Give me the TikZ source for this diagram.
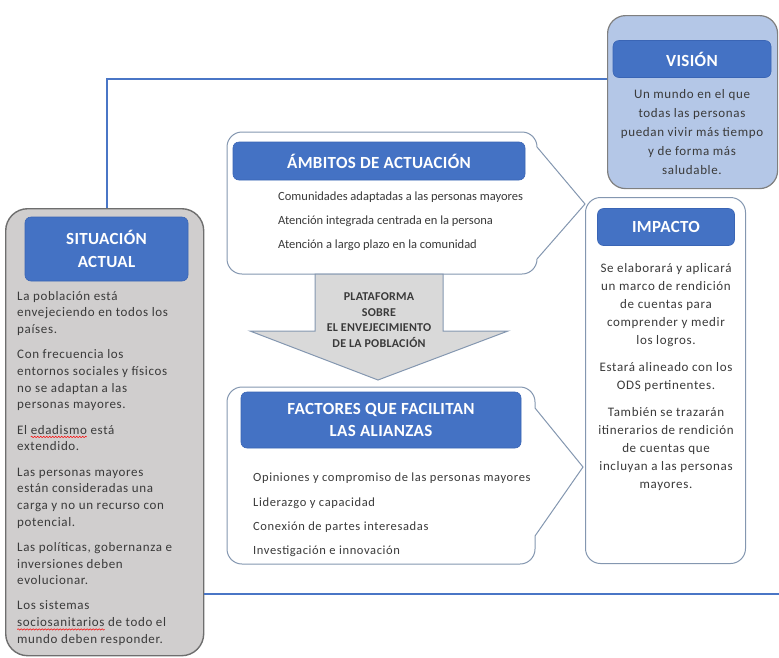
\documentclass[tikz,border=0pt]{standalone}
\usepackage{fontspec}
\setmainfont{Carlito}
\newfontfamily\spfont[LetterSpace=5]{Carlito}
\newfontfamily\spbfont[LetterSpace=2]{Carlito}
\usetikzlibrary{decorations.pathmorphing}
\newcommand\redwave[1]{\setbox0\hbox{#1}\rlap{\tikz[overlay,baseline=0pt]\draw[red,line width=0.5pt,decorate,decoration={snake,amplitude=0.7pt,segment length=3pt}] (0pt,-2.8pt) -- (\the\wd0,-2.8pt);}#1}
\definecolor{hblue}{HTML}{4472C4}
\definecolor{hborder}{HTML}{3A65B5}
\definecolor{frameblue}{HTML}{4A76C6}
\definecolor{txt}{HTML}{3A3A3A}
\definecolor{sitfill}{HTML}{D0CECE}
\definecolor{sitdraw}{HTML}{6E6E6E}
\definecolor{visfill}{HTML}{B4C7E7}
\definecolor{visdraw}{HTML}{7F7F7F}
\definecolor{calldraw}{HTML}{8497B0}
\definecolor{arrfill}{HTML}{D9D9D9}
\tikzset{
  frame/.style={draw=frameblue, line width=1.6pt},
  header/.style={fill=hblue, draw=hborder, line width=0.6pt, rounded corners=6pt, text=white,
     font=\spbfont\fontsize{17}{22}\selectfont\bfseries, align=center, inner sep=0pt},
  callout/.style={draw=calldraw, line width=1pt, fill=white},
  body/.style={text=txt, inner sep=0pt},
}
\begin{document}
\begin{tikzpicture}[x=1pt,y=-1pt]
\useasboundingbox (0,0) rectangle (779,657);

% boxes
\node[draw=sitdraw, fill=sitfill, line width=1.4pt, rounded corners=22pt, minimum width=198pt, minimum height=447pt, anchor=north west, inner sep=0pt] (sit) at (5,208) {};
\node[draw=visdraw, fill=visfill, line width=1.2pt, rounded corners=18pt, minimum width=170pt, minimum height=173pt, anchor=north west, inner sep=0pt] (vis) at (607,15) {};
\node[draw=calldraw, fill=white, line width=1pt, rounded corners=15pt, minimum width=160pt, minimum height=366pt, anchor=north west, inner sep=0pt] (imp) at (585,197) {};

% frame
\coordinate (fc) at (107,79);
\coordinate (fe) at (779,594);
\draw[frame] (vis.west |- fc) -- (fc) -- (fc |- sit.north);
\draw[frame] (sit.east |- fe) -- (fe);

% callouts (sharp pointer tips)
\draw[callout] (227,147) arc[start angle=180,end angle=270,radius=15] -- (522,132) arc[start angle=270,end angle=360,radius=15] -- (585,204) -- (537,259) arc[start angle=0,end angle=90,radius=15] -- (242,274) arc[start angle=90,end angle=180,radius=15] -- cycle;
\draw[callout] (227,402) arc[start angle=180,end angle=270,radius=15] -- (520,387) arc[start angle=270,end angle=360,radius=15] -- (535,408) -- (583,467) -- (535,536) -- (535,549) arc[start angle=0,end angle=90,radius=15] -- (242,564) arc[start angle=90,end angle=180,radius=15] -- cycle;

% arrow
\draw[draw=calldraw, fill=arrfill, line width=1pt] (315,274) -- (443,274) -- (443,331) -- (508,331) -- (378,380) -- (250,331) -- (315,331) -- cycle;
\node[text=txt, font=\spbfont\fontsize{12}{15.5}\selectfont\bfseries, align=center, inner sep=0pt] (plat) at (379,320) {PLATAFORMA\\SOBRE\\EL ENVEJECIMIENTO\\DE LA POBLACIÓN};

% headers
\node[header, minimum width=163pt, minimum height=64pt, font=\spbfont\fontsize{17}{23}\selectfont\bfseries] (sith) at (106.5,249) {SITUACIÓN\\ACTUAL};
\node[header, minimum width=158pt, minimum height=37pt] (vish) at (692,59) {VISIÓN};
\node[header, minimum width=292pt, minimum height=38pt] (ambh) at (379,161) {ÁMBITOS DE ACTUACIÓN};
\node[header, minimum width=280pt, minimum height=56pt] (fach) at (381,420) {FACTORES QUE FACILITAN\\LAS ALIANZAS};
\node[header, minimum width=137pt, minimum height=37pt] (imph) at (666,227) {IMPACTO};

% body texts
\node[body, anchor=north west, align=left, font=\spfont\fontsize{13}{16.7}\selectfont] (sittxt) at (17,291) {La población está\\envejeciendo en todos los\\países.\\[8.5pt]Con frecuencia los\\entornos sociales y físicos\\no se adaptan a las\\personas mayores.\\[8.5pt]El \redwave{edadismo} está\\extendido.\\[8.5pt]Las personas mayores\\están consideradas una\\carga y no un recurso con\\potencial.\\[8.5pt]Las políticas, gobernanza e\\inversiones deben\\evolucionar.\\[8.5pt]Los sistemas\\\redwave{sociosanitarios} de todo el\\mundo deben responder.};

\node[body, align=center, font=\spfont\fontsize{13}{19}\selectfont] (vistxt) at (692,132) {Un mundo en el que\\todas las personas\\puedan vivir más tiempo\\y de forma más\\saludable.};

\node[body, anchor=north west, align=left, font=\fontsize{12.5}{24}\selectfont] (ambtxt) at (278,192) {Comunidades adaptadas a las personas mayores\\Atención integrada centrada en la persona\\Atención a largo plazo en la comunidad};

\node[body, anchor=north west, align=left, font=\spfont\fontsize{12.5}{24.3}\selectfont] (factxt) at (253,473) {Opiniones y compromiso de las personas mayores\\Liderazgo y capacidad\\Conexión de partes interesadas\\Investigación e innovación};

\node[body, anchor=north, align=center, font=\spfont\fontsize{13}{18}\selectfont] (imptxt) at (666,263) {Se elaborará y aplicará\\un marco de rendición\\de cuentas para\\comprender y medir\\los logros.\\[9pt]Estará alineado con los\\ODS pertinentes.\\[9pt]También se trazarán\\itinerarios de rendición\\de cuentas que\\incluyan a las personas\\mayores.};
\end{tikzpicture}
\end{document}
